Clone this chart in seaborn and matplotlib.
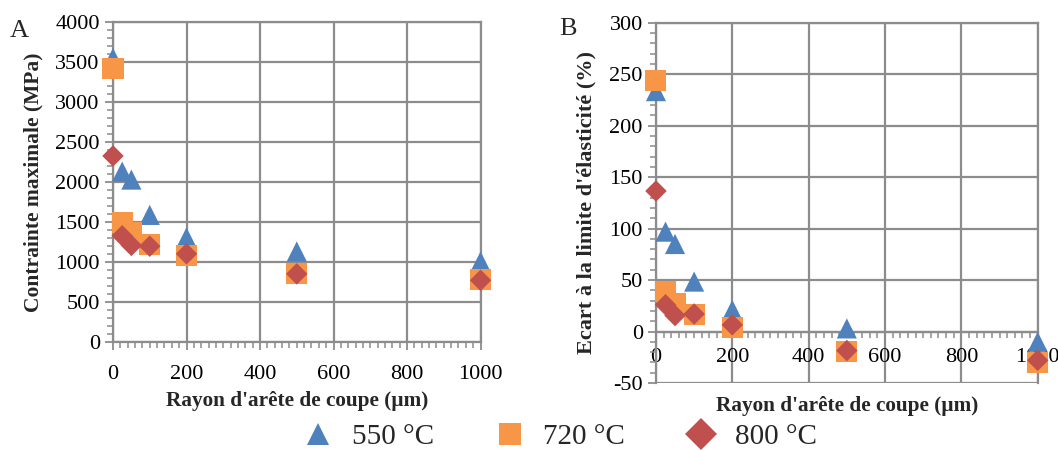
import numpy as np
import pandas as pd
import matplotlib
matplotlib.use("Agg")
import matplotlib.pyplot as plt
import seaborn as sns
from matplotlib.ticker import MultipleLocator

rayon = [0, 25, 50, 100, 200, 500, 1000]
series = ["550 °C", "720 °C", "800 °C"]

# Contrainte maximale (MPa)
contrainte_550 = [3545, 2130, 2030, 1590, 1310, 1135, 1010]
contrainte_720 = [3410, 1495, 1370, 1220, 1085, 855, 780]
contrainte_800 = [2325, 1330, 1210, 1200, 1105, 855, 775]

# Ecart a la limite d'elasticite (%)
ecart_550 = [233.5, 97, 85, 48.5, 21, 3, -10]
ecart_720 = [243.5, 39, 27.5, 16.5, 3.5, -19.5, -30]
ecart_800 = [136.5, 26, 15.5, 17, 6.5, -18.5, -28]

colors = {"550 °C": "#4F81BD", "720 °C": "#F79646", "800 °C": "#C0504D"}
markers = {"550 °C": "^", "720 °C": "s", "800 °C": "D"}
sizes = {"550 °C": 210, "720 °C": 230, "800 °C": 120}

rows = []
for name, c, e in zip(series, [contrainte_550, contrainte_720, contrainte_800],
                      [ecart_550, ecart_720, ecart_800]):
    for r, cv, ev in zip(rayon, c, e):
        rows.append({"rayon": r, "serie": name, "contrainte": cv, "ecart": ev})
df = pd.DataFrame(rows)

sns.set_style("white")
plt.rcParams["font.family"] = ["Liberation Serif", "DejaVu Serif"]
plt.rcParams["axes.unicode_minus"] = False
grid_c = "#8c8c8c"

fig = plt.figure(figsize=(10.58, 4.5), dpi=100)
axA = fig.add_axes([0.1068, 0.2389, 0.3474, 0.7133])
axB = fig.add_axes([0.6200, 0.1489, 0.3608, 0.8007])

for ax, col in [(axA, "contrainte"), (axB, "ecart")]:
    sns.scatterplot(data=df, x="rayon", y=col, hue="serie", style="serie", size="serie",
                    palette=colors, markers=markers, sizes=sizes, linewidth=0,
                    ax=ax, legend=(ax is axA), clip_on=False, zorder=5)
    ax.set_xlim(0, 1000)
    ax.xaxis.set_major_locator(MultipleLocator(200))
    ax.xaxis.set_minor_locator(MultipleLocator(20))
    ax.grid(True, which="major", color=grid_c, linewidth=1.6)
    for s in ax.spines.values():
        s.set_color(grid_c)
        s.set_linewidth(1.6)
    ax.tick_params(which="both", bottom=True, left=True, direction="out")
    ax.tick_params(which="major", length=6, width=1.3, color=grid_c, labelsize=16,
                   labelcolor="black")
    ax.tick_params(which="minor", length=4, width=1.1, color=grid_c)
    ax.set_axisbelow(True)

axA.set_ylim(0, 4000)
axA.yaxis.set_major_locator(MultipleLocator(500))
axA.yaxis.set_minor_locator(MultipleLocator(100))
axA.tick_params(axis="x", which="major", pad=10)
axA.set_xlabel("Rayon d'arête de coupe (µm)", fontsize=15.3, fontweight="bold")
axA.set_ylabel("Contrainte maximale (MPa)", fontsize=15.5, fontweight="bold")
axA.xaxis.set_label_coords(0.5, -0.15)
axA.yaxis.set_label_coords(-0.19, 0.5)

axB.set_ylim(-50, 300)
axB.yaxis.set_major_locator(MultipleLocator(50))
axB.yaxis.set_minor_locator(MultipleLocator(10))
axB.spines["bottom"].set_position(("data", 0))
axB.tick_params(axis="x", which="major", pad=6)
axB.set_xlabel("Rayon d'arête de coupe (µm)", fontsize=15.3, fontweight="bold")
axB.set_ylabel("Ecart à la limite d'élasticité (%)", fontsize=16, fontweight="bold")
axB.xaxis.set_label_coords(0.5, -0.037)
axB.yaxis.set_label_coords(-0.155, 0.5)

fig.text(0.009, 0.955, "A", fontsize=19, va="top")
fig.text(0.529, 0.960, "B", fontsize=19, va="top")

handles, labels = axA.get_legend_handles_labels()
axA.get_legend().remove()
for h in handles:
    h.set_markersize(16.3)
fig.legend(handles, labels, loc="center", bbox_to_anchor=(0.528, 0.029), ncol=3,
           frameon=False, fontsize=21, columnspacing=2.0, handletextpad=0.55,
           handlelength=1.2)

fig.savefig("out.png", dpi=100)
